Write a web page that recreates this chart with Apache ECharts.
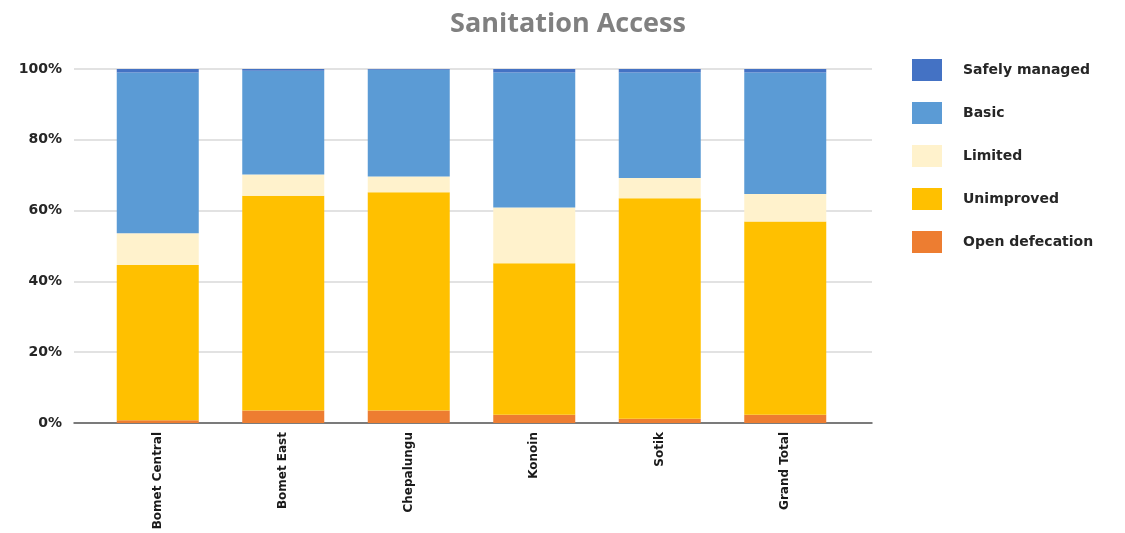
<!DOCTYPE html>
<html>
<head>
<meta charset="utf-8">
<script src="https://cdn.jsdelivr.net/npm/echarts@6/dist/echarts.min.js"></script>
<style>
  html, body { margin: 0; padding: 0; background: #fff; }
  #chart { width: 1125px; height: 533px; }
</style>
</head>
<body>
<div id="chart"></div>
<script>
// sub-counties on the x axis
const categories = ['Bomet Central', 'Bomet East', 'Chepalungu', 'Konoin', 'Sotik', 'Grand Total'];

// share of households (%) per sanitation level
const openDefecation = [0.8, 3.5, 3.5, 2.3, 1.2, 2.3];
const unimproved     = [43.8, 60.7, 61.7, 42.8, 62.3, 54.6];
const limited        = [9.0, 6.0, 4.4, 15.8, 5.7, 7.8];
const basic          = [45.4, 29.3, 30.2, 38.1, 29.8, 34.3];
const safelyManaged  = [1.0, 0.5, 0.2, 1.0, 1.0, 1.0];

const yTicks = [0, 20, 40, 60, 80, 100];

const chart = echarts.init(document.getElementById('chart'), null, { renderer: 'canvas' });

const labelFont = { fontFamily: 'DejaVu Sans, sans-serif', fontWeight: 'bold' };

function bar(name, data, color) {
    return {
        name: name,
        type: 'bar',
        stack: 'total',
        xAxisIndex: 1,
        yAxisIndex: 1,
        barWidth: 82,
        data: data,
        itemStyle: { color: color }
    };
}

const option = {
    backgroundColor: '#fff',
    animation: false,
    title: {
        text: 'Sanitation Access',
        left: 563,
        textAlign: 'center',
        top: 6,
        textStyle: { color: '#808080', fontSize: 27, fontWeight: 'bold', fontFamily: 'Open Sans, sans-serif' }
    },
    legend: {
        orient: 'vertical',
        left: 907,
        top: 54,
        itemWidth: 30,
        itemHeight: 22,
        itemGap: 21,
        icon: 'rect',
        data: ['Safely managed', 'Basic', 'Limited', 'Unimproved', 'Open defecation'],
        textStyle: Object.assign({ color: '#262626', fontSize: 14, padding: [0, 0, 0, 16] }, labelFont)
    },
    grid: [
        // outer plot area: gridlines and axis line span the full width
        { left: 74, right: 253, top: 69, bottom: 110 },
        // inner area holding the bars
        { left: 95, right: 277, top: 69, bottom: 110 }
    ],
    xAxis: [
        {
            type: 'category',
            gridIndex: 0,
            data: [''],
            axisLine: { show: true, lineStyle: { color: '#595959', width: 1.5 } },
            axisTick: { show: false },
            axisLabel: { show: false }
        },
        {
            type: 'category',
            gridIndex: 1,
            data: categories,
            axisLine: { show: false },
            axisTick: { show: false },
            axisLabel: Object.assign({
                rotate: 90,
                margin: 9,
                color: '#1a1a1a',
                fontSize: 12
            }, labelFont)
        }
    ],
    yAxis: [
        {
            type: 'value',
            gridIndex: 0,
            min: yTicks[0],
            max: yTicks[yTicks.length - 1],
            interval: 20,
            axisLine: { show: false },
            axisTick: { show: false },
            splitLine: { lineStyle: { color: '#d9d9d9', width: 1.5 } },
            axisLabel: Object.assign({
                formatter: '{value}%',
                color: '#262626',
                fontSize: 14,
                margin: 12
            }, labelFont)
        },
        {
            type: 'value',
            gridIndex: 1,
            min: 0,
            max: 100,
            show: false,
            splitLine: { show: false }
        }
    ],
    series: [
        bar('Open defecation', openDefecation, '#ED7D31'),
        bar('Unimproved', unimproved, '#FFC000'),
        bar('Limited', limited, '#FFF2CC'),
        bar('Basic', basic, '#5B9BD5'),
        bar('Safely managed', safelyManaged, '#4472C4')
    ]
};

chart.setOption(option);
</script>
</body>
</html>
